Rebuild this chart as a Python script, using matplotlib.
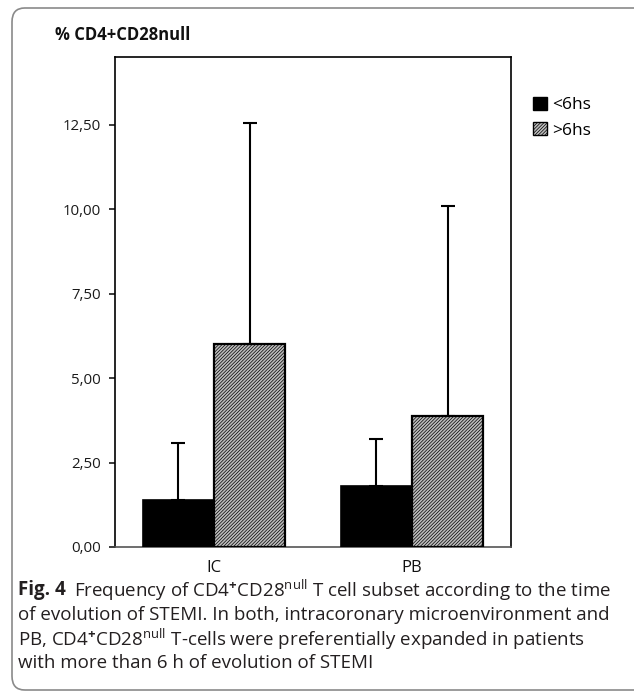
### CD4+CD28null by time of evolution -- bar chart ###
import numpy as np
import matplotlib.pyplot as plt
from matplotlib.patches import Patch, FancyBboxPatch

plt.rcParams['font.family'] = ['Open Sans', 'DejaVu Sans']
plt.rcParams['mathtext.fontset'] = 'custom'
plt.rcParams['mathtext.rm'] = 'Open Sans'
plt.rcParams['mathtext.bf'] = 'Open Sans:bold'
plt.rcParams['hatch.linewidth'] = 0.5

categories = ['IC', 'PB']
series_names = ['<6hs', '>6hs']
means_lt6 = [1.39, 1.80]
sd_lt6 = [1.69, 1.40]
means_gt6 = [6.00, 3.88]
sd_gt6 = [6.55, 6.22]
y_ticks = [0, 2.5, 5.0, 7.5, 10.0, 12.5]
y_ticklabels = ['0,00', '2,50', '5,00', '7,50', '10,00', '12,50']

fig = plt.figure(figsize=(6.34, 6.96), dpi=100)

# rounded frame around the figure
frame = FancyBboxPatch((12/634, 1-690/696), 640/634, 682/696,
                       boxstyle='round,pad=0,rounding_size=0.02',
                       transform=fig.transFigure, fill=False,
                       edgecolor='#8a8a8a', lw=1.2, clip_on=False)
fig.patches.append(frame)

ax = fig.add_axes([115/634, 1-547/696, 396/634, 490/696])

x = np.arange(len(categories))
w = 0.36
hatch_face = '#bdbdbd'
ax.bar(x - w/2, means_lt6, w, color='black', edgecolor='black', lw=1.2,
       yerr=[np.zeros(2), sd_lt6], capsize=5,
       error_kw=dict(ecolor='black', elinewidth=1.5, capthick=1.5), zorder=3)
ax.bar(x + w/2, means_gt6, w, color=hatch_face, edgecolor='black', lw=1.6,
       hatch='//////////',
       yerr=[np.zeros(2), sd_gt6], capsize=5,
       error_kw=dict(ecolor='black', elinewidth=1.5, capthick=1.5), zorder=3)

ax.set_xlim(-0.5, 1.5)
ax.set_ylim(0, 14.5)
ax.set_yticks(y_ticks)
ax.set_yticklabels(y_ticklabels)
ax.set_xticks(x)
ax.set_xticklabels(categories, fontsize=12)
ax.tick_params(axis='y', length=4, width=1.2, pad=6, labelsize=10.8, colors='#1a1a1a')
ax.tick_params(axis='x', length=0, pad=9, colors='#111111')
for s in ax.spines.values():
    s.set_linewidth(1.2)
ax.spines['bottom'].set_color('#555555')

handles = [Patch(facecolor='black', edgecolor='black'),
           Patch(facecolor=hatch_face, edgecolor='black', hatch='//////////')]
fig.legend(handles, series_names, loc='upper left',
           bbox_to_anchor=(524/634, 1-88/696), frameon=False, fontsize=12.5,
           handlelength=0.8, handleheight=0.8, handletextpad=0.3,
           labelspacing=0.5, borderpad=0)

fig.text(55/634, 1-35/696, '% CD4+CD28null', fontsize=12, fontweight='bold',
         va='center', ha='left', color='#111111')

caption_head = 'Fig. 4'
caption = [r'Frequency of CD4$^{\mathbf{+}}$CD28$^{\rm null}$ T cell subset according to the time',
           'of evolution of STEMI. In both, intracoronary microenvironment and',
           r'PB, CD4$^{\mathbf{+}}$CD28$^{\rm null}$ T-cells were preferentially expanded in patients',
           'with more than 6 h of evolution of STEMI']
cap_size = 13.5
head = fig.text(18/634, 1-590/696, caption_head, fontsize=cap_size, fontweight='bold',
                va='center', ha='left', color='#231f20')
fig.canvas.draw()
head_end = head.get_window_extent().x1 / fig.bbox.width
for i, line in enumerate(caption):
    x0 = head_end + 8/634 if i == 0 else 18/634
    fig.text(x0, 1-(590 + 24.5*i)/696, line, fontsize=cap_size, va='center',
             ha='left', color='#231f20')

plt.savefig('out.png', dpi=100)
